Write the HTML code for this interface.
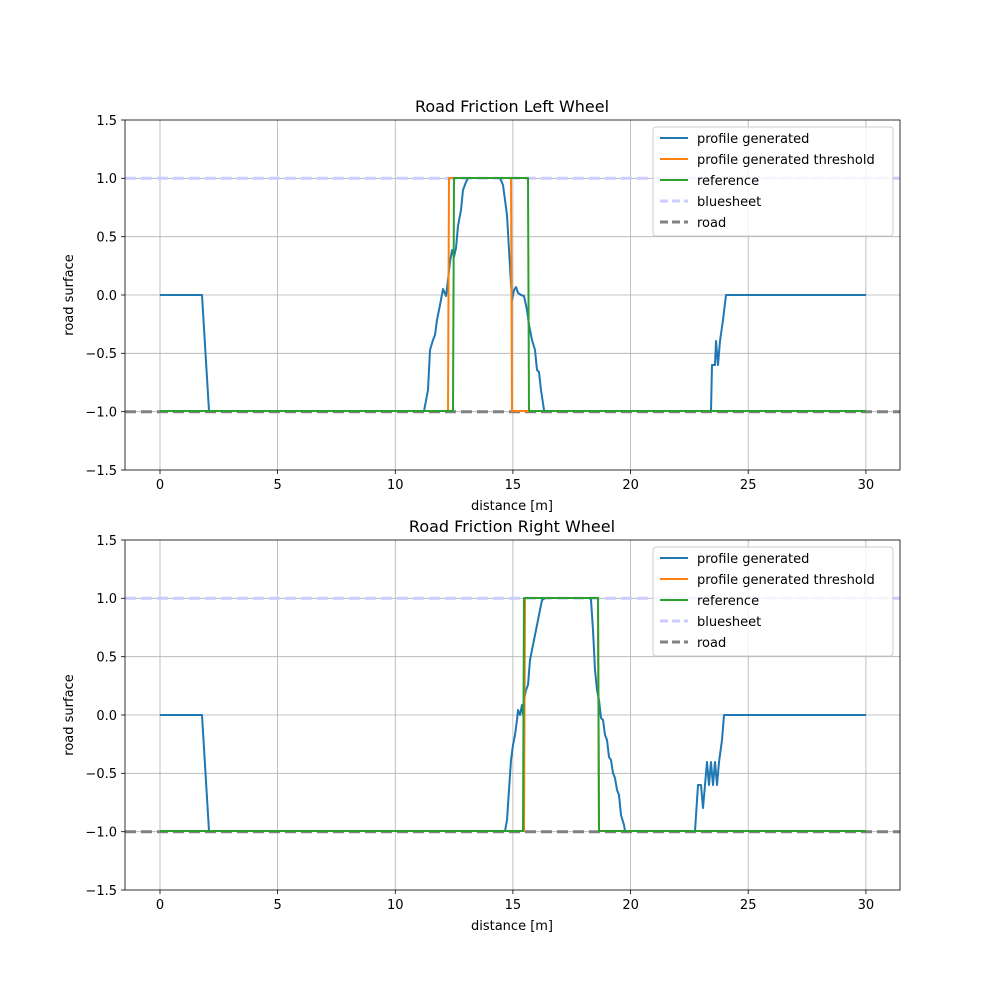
<!DOCTYPE html>
<html><head><meta charset="utf-8"><style>body{margin:0;background:#fff}svg{display:block}text{font-family:"DejaVu Sans","Liberation Sans",sans-serif;fill:#000}</style></head><body>
<svg width="1000" height="1000" viewBox="0 0 1000 1000" xmlns="http://www.w3.org/2000/svg">
<defs>
<g id="grid" stroke="#b0b0b0" stroke-width="0.8">
<line x1="160" y1="0" x2="160" y2="350"/><line x1="277.6" y1="0" x2="277.6" y2="350"/><line x1="395.3" y1="0" x2="395.3" y2="350"/><line x1="512.9" y1="0" x2="512.9" y2="350"/><line x1="630.6" y1="0" x2="630.6" y2="350"/><line x1="748.2" y1="0" x2="748.2" y2="350"/><line x1="865.9" y1="0" x2="865.9" y2="350"/>
<line x1="125" y1="58.3" x2="900" y2="58.3"/><line x1="125" y1="116.7" x2="900" y2="116.7"/><line x1="125" y1="175" x2="900" y2="175"/><line x1="125" y1="233.3" x2="900" y2="233.3"/><line x1="125" y1="291.7" x2="900" y2="291.7"/>
</g>
<g id="axes">
<use href="#grid"/>
<line x1="125" y1="58.3" x2="900" y2="58.3" stroke="#ccccff" stroke-width="3" stroke-dasharray="11,5"/>
<line x1="125" y1="291.7" x2="900" y2="291.7" stroke="#808080" stroke-width="3" stroke-dasharray="11,5"/>
<g stroke="#000" stroke-width="0.8">
<line x1="160" y1="350" x2="160" y2="354"/><line x1="277.6" y1="350" x2="277.6" y2="354"/><line x1="395.3" y1="350" x2="395.3" y2="354"/><line x1="512.9" y1="350" x2="512.9" y2="354"/><line x1="630.6" y1="350" x2="630.6" y2="354"/><line x1="748.2" y1="350" x2="748.2" y2="354"/><line x1="865.9" y1="350" x2="865.9" y2="354"/>
<line x1="121" y1="0" x2="125" y2="0"/><line x1="121" y1="58.3" x2="125" y2="58.3"/><line x1="121" y1="116.7" x2="125" y2="116.7"/><line x1="121" y1="175" x2="125" y2="175"/><line x1="121" y1="233.3" x2="125" y2="233.3"/><line x1="121" y1="291.7" x2="125" y2="291.7"/><line x1="121" y1="350" x2="125" y2="350"/>
</g>
<g font-size="13" text-anchor="middle">
<text x="160" y="369">0</text><text x="277.6" y="369">5</text><text x="395.3" y="369">10</text><text x="512.9" y="369">15</text><text x="630.6" y="369">20</text><text x="748.2" y="369">25</text><text x="865.9" y="369">30</text>
<text x="512" y="390">distance [m]</text>
</g>
<g font-size="13" text-anchor="end">
<text x="117" y="5">1.5</text><text x="117" y="63">1.0</text><text x="117" y="121.5">0.5</text><text x="117" y="180">0.0</text><text x="117" y="238">−0.5</text><text x="117" y="296.5">−1.0</text><text x="117" y="355">−1.5</text>
</g>
<text font-size="13" text-anchor="middle" transform="translate(73,175) rotate(-90)">road surface</text>
</g>
<g id="legend">
<rect x="653" y="7" width="240" height="109" fill="#fff" fill-opacity="0.8" stroke="#cccccc" rx="3"/>
<line x1="660" y1="18" x2="688" y2="18" stroke="#1f77b4" stroke-width="2"/>
<line x1="660" y1="39" x2="688" y2="39" stroke="#ff7f0e" stroke-width="2"/>
<line x1="660" y1="60" x2="688" y2="60" stroke="#2ca02c" stroke-width="2"/>
<line x1="660" y1="81" x2="688" y2="81" stroke="#ccccff" stroke-width="3" stroke-dasharray="8,4"/>
<line x1="660" y1="102" x2="688" y2="102" stroke="#808080" stroke-width="3" stroke-dasharray="8,4"/>
<g font-size="13"><text x="697" y="23">profile generated</text><text x="697" y="44">profile generated threshold</text><text x="697" y="65">reference</text><text x="697" y="86">bluesheet</text><text x="697" y="107">road</text></g>
</g>
</defs>

<g transform="translate(0,120)"><use href="#axes"/></g>
<text x="512" y="112" font-size="16" text-anchor="middle">Road Friction Left Wheel</text>
<g fill="none" stroke-width="2" stroke-linejoin="round">
<polyline stroke="#1f77b4" points="160,295 202,295 209,411 424,411 428,390 430,350 433,340 435,335 437,320 440,305 443,289 446,296 448,280 450,262 452,250 454,257 456,248 458,226 461,210 463,190 466,182 468,178 500,178 503,185 505,200 507,215 509,250 512,300 514,290 516,287 518,293 521,295 524,296 527,310 529,325 532,340 535,350 537,370 539,372 541,390 544,410 545,411 711,411 712,365 715,365 716,341 718,365 720,341 723,320 726,295 866,295"/>
<polyline stroke="#ff7f0e" points="160,411 448,411 449,178 511,178 512,411 866,411"/>
<polyline stroke="#2ca02c" points="160,411 453,411 454,178 528,178 529,411 866,411"/>
</g>
<rect x="125" y="120" width="775" height="350" fill="none" stroke="#000" stroke-width="0.8"/>
<g transform="translate(0,120)"><use href="#legend"/></g>

<g transform="translate(0,540)"><use href="#axes"/></g>
<text x="512" y="532" font-size="16" text-anchor="middle">Road Friction Right Wheel</text>
<g fill="none" stroke-width="2" stroke-linejoin="round">
<polyline stroke="#1f77b4" points="160,715 202,715 209,831 505,831 507,820 509,790 511,760 513,745 515,735 517,720 518,710 520,715 522,705 523,715 524,700 526,690 528,685 530,660 532,650 534,640 536,630 538,620 540,610 542,600 545,598 590,598 591,600 593,630 595,670 597,690 599,700 601,718 603,720 605,735 607,740 609,757 611,760 613,773 615,778 617,790 619,795 621,815 624,825 625,831 695,831 698,785 701,785 703,808 705,785 707,762 709,785 711,762 713,785 715,762 717,785 719,762 722,740 724,715 866,715"/>
<polyline stroke="#ff7f0e" points="160,831 524,831 525,598 598,598 599,831 866,831"/>
<polyline stroke="#2ca02c" points="160,831 523,831 524,598 598,598 599,831 866,831"/>
</g>
<rect x="125" y="540" width="775" height="350" fill="none" stroke="#000" stroke-width="0.8"/>
<g transform="translate(0,540)"><use href="#legend"/></g>
</svg>
</body></html>
